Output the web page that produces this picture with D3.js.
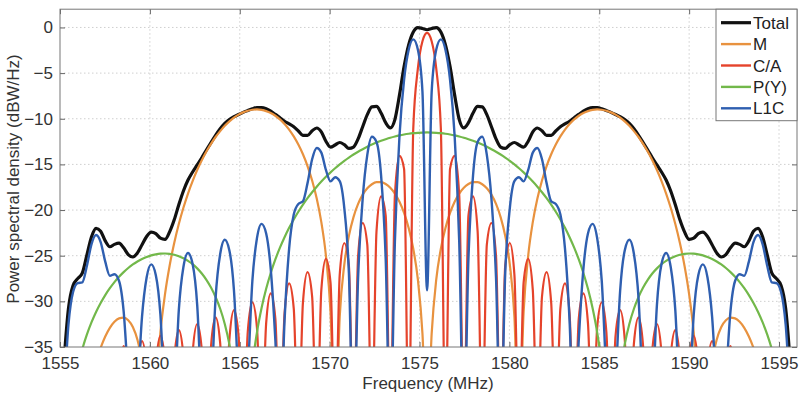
<!DOCTYPE html>
<html><head><meta charset="utf-8">
<script src="https://cdn.jsdelivr.net/npm/d3@7"></script>
<style>
body{margin:0;background:#fff}
svg{display:block}
text{font-family:"Liberation Sans",Arial,Helvetica,sans-serif}
</style>
</head><body>
<svg id="chart" width="800" height="399"></svg>
<script>
// ---------- data ----------
const freqMHz = [
1554.960,1555.216,1555.471,1555.727,1555.983,1556.239,1556.494,1556.750,1557.006,1557.262,
1557.517,1557.773,1558.029,1558.285,1558.540,1558.796,1559.052,1559.308,1559.563,1559.819,
1560.075,1560.331,1560.586,1560.842,1561.098,1561.354,1561.609,1561.865,1562.121,1562.377,
1562.632,1562.888,1563.144,1563.400,1563.655,1563.911,1564.167,1564.423,1564.678,1564.934,
1565.190,1565.446,1565.701,1565.957,1566.213,1566.469,1566.724,1566.980,1567.236,1567.492,
1567.747,1568.003,1568.259,1568.515,1568.770,1569.026,1569.282,1569.538,1569.793,1570.049,
1570.305,1570.561,1570.816,1571.072,1571.328,1571.584,1571.839,1572.095,1572.351,1572.607,
1572.862,1573.118,1573.374,1573.630,1573.885,1574.141,1574.397,1574.653,1574.908,1575.164,
1575.420,
1575.676,1575.932,1576.187,1576.443,1576.699,1576.955,1577.210,1577.466,1577.722,1577.978,
1578.233,1578.489,1578.745,1579.001,1579.256,1579.512,1579.768,1580.024,1580.279,1580.535,
1580.791,1581.047,1581.302,1581.558,1581.814,1582.070,1582.325,1582.581,1582.837,1583.093,
1583.348,1583.604,1583.860,1584.116,1584.371,1584.627,1584.883,1585.139,1585.394,1585.650,
1585.906,1586.162,1586.417,1586.673,1586.929,1587.185,1587.440,1587.696,1587.952,1588.208,
1588.463,1588.719,1588.975,1589.231,1589.486,1589.742,1589.998,1590.254,1590.509,1590.765,
1591.021,1591.277,1591.532,1591.788,1592.044,1592.300,1592.555,1592.811,1593.067,1593.323,
1593.578,1593.834,1594.090,1594.346,1594.601,1594.857,1595.113,1595.369,1595.624,1595.880
];

const totalDb = [
-45,-36.84,-30.78,-28.26,-27.51,-26.91,-24.94,-22.94,-22.00,-22.32,
-23.38,-24.02,-23.76,-23.63,-24.14,-24.88,-25.14,-24.69,-23.80,-22.89,
-22.42,-22.59,-23.08,-23.22,-22.39,-21.07,-19.42,-17.91,-16.71,-15.83,
-15.06,-14.27,-13.42,-12.61,-11.81,-11.09,-10.50,-10.08,-9.78,-9.53,
-9.30,-9.10,-8.91,-8.78,-8.77,-8.90,-9.17,-9.52,-9.90,-10.27,
-10.56,-10.87,-11.34,-11.82,-11.83,-11.32,-11.01,-11.44,-12.46,-13.11,
-12.87,-12.60,-12.84,-13.25,-13.10,-12.21,-10.87,-9.55,-8.70,-8.65,
-9.37,-10.43,-11.00,-10.09,-7.41,-4.29,-1.90,-0.49,-0.01,-0.11,
-0.25,
-0.11,-0.01,-0.49,-1.90,-4.29,-7.41,-10.09,-11.00,-10.43,-9.37,
-8.65,-8.70,-9.55,-10.87,-12.21,-13.10,-13.25,-12.84,-12.60,-12.87,
-13.11,-12.46,-11.44,-11.01,-11.32,-11.83,-11.82,-11.34,-10.87,-10.56,
-10.27,-9.90,-9.52,-9.17,-8.90,-8.77,-8.78,-8.91,-9.10,-9.30,
-9.53,-9.78,-10.08,-10.50,-11.09,-11.81,-12.61,-13.42,-14.27,-15.06,
-15.83,-16.71,-17.91,-19.42,-21.07,-22.39,-23.22,-23.08,-22.59,-22.42,
-22.89,-23.80,-24.69,-25.14,-24.88,-24.14,-23.63,-23.76,-24.02,-23.38,
-22.32,-22.00,-22.94,-24.94,-26.91,-27.51,-28.26,-30.78,-36.84,-45
];

const mDb = [
-45,-45,-45,-45,-45,-43,-40.9,-38.56,-36.64,-35.09,
-33.85,-32.90,-32.24,-31.86,-31.78,-32.07,-32.81,-34.21,-36.71,-41.8,
-45,-40.1,-33.40,-29.21,-26.10,-23.61,-21.53,-19.75,-18.19,-16.83,
-15.62,-14.55,-13.59,-12.75,-12.00,-11.35,-10.77,-10.28,-9.87,-9.55,
-9.30,-9.12,-9.01,-8.98,-9.03,-9.16,-9.37,-9.67,-10.07,-10.57,
-11.18,-11.93,-12.82,-13.89,-15.18,-16.76,-18.74,-21.33,-24.98,-31.17,
-45,-31.67,-25.97,-22.83,-20.77,-19.33,-18.31,-17.61,-17.17,-16.95,
-16.95,-17.15,-17.56,-18.19,-19.09,-20.31,-21.96,-24.24,-27.60,-33.53,
-45,
-33.53,-27.60,-24.24,-21.96,-20.31,-19.09,-18.19,-17.56,-17.15,-16.95,
-16.95,-17.17,-17.61,-18.31,-19.33,-20.77,-22.83,-25.97,-31.67,-45,
-31.17,-24.98,-21.33,-18.74,-16.76,-15.18,-13.89,-12.82,-11.93,-11.18,
-10.57,-10.07,-9.67,-9.37,-9.16,-9.03,-8.98,-9.01,-9.12,-9.30,
-9.55,-9.87,-10.28,-10.77,-11.35,-12.00,-12.75,-13.59,-14.55,-15.62,
-16.83,-18.19,-19.75,-21.53,-23.61,-26.10,-29.21,-33.40,-40.1,-45,
-41.8,-36.71,-34.21,-32.81,-32.07,-31.78,-31.86,-32.24,-32.90,-33.85,
-35.09,-36.64,-38.56,-40.9,-43,-45,-45,-45,-45,-45
];

const caDb = [
-45,-39.50,-36.40,-39.10,-45,-39.00,-35.90,-38.70,-45,-38.50,
-35.40,-38.20,-45,-38.00,-34.89,-37.70,-45,-37.50,-34.35,-37.20,
-45,-36.90,-33.77,-36.60,-45,-36.32,-33.15,-36.00,-45,-35.66,
-32.48,-35.32,-45,-34.95,-31.76,-34.58,-45,-34.18,-30.97,-33.77,
-45,-33.33,-30.10,-32.88,-45,-32.39,-29.13,-31.88,-45,-31.34,
-28.04,-30.76,-45,-30.14,-26.80,-29.47,-45,-28.75,-25.35,-27.96,
-45,-27.09,-23.61,-26.12,-45,-25.03,-21.42,-23.79,-45,-22.34,
-18.50,-20.60,-45,-18.41,-14.07,-15.49,-45,-11.05,-4.52,-1.51,
-0.60,
-1.51,-4.52,-11.05,-45,-15.49,-14.07,-18.41,-45,-20.60,-18.50,
-22.34,-45,-23.79,-21.42,-25.03,-45,-26.12,-23.61,-27.09,-45,
-27.96,-25.35,-28.75,-45,-29.47,-26.80,-30.14,-45,-30.76,-28.04,
-31.34,-45,-31.88,-29.13,-32.39,-45,-32.88,-30.10,-33.33,-45,
-33.77,-30.97,-34.18,-45,-34.58,-31.76,-34.95,-45,-35.32,-32.48,
-35.66,-45,-36.00,-33.15,-36.32,-45,-36.60,-33.77,-36.90,-45,
-37.20,-34.35,-37.50,-45,-37.70,-34.89,-38.00,-45,-38.20,-35.40,
-38.50,-45,-38.70,-35.90,-39.00,-45,-39.10,-36.40,-39.50,-45
];

const pyDb = [
-45,-45,-43.4,-39.77,-37.22,-35.25,-33.65,-32.31,-31.16,-30.18,
-29.31,-28.56,-27.89,-27.31,-26.80,-26.35,-25.96,-25.63,-25.36,-25.14,
-24.96,-24.85,-24.78,-24.76,-24.80,-24.90,-25.05,-25.27,-25.56,-25.93,
-26.39,-26.95,-27.64,-28.48,-29.52,-30.81,-32.47,-34.71,-37.98,-43.8,
-45,-43.3,-37.11,-33.40,-30.73,-28.63,-26.89,-25.41,-24.12,-22.98,
-21.95,-21.03,-20.19,-19.41,-18.70,-18.05,-17.44,-16.88,-16.36,-15.87,
-15.42,-15.00,-14.61,-14.25,-13.92,-13.61,-13.33,-13.07,-12.83,-12.61,
-12.41,-12.24,-12.08,-11.94,-11.82,-11.72,-11.64,-11.58,-11.54,-11.51,
-11.50,
-11.51,-11.54,-11.58,-11.64,-11.72,-11.82,-11.94,-12.08,-12.24,-12.41,
-12.61,-12.83,-13.07,-13.33,-13.61,-13.92,-14.25,-14.61,-15.00,-15.42,
-15.87,-16.36,-16.88,-17.44,-18.05,-18.70,-19.41,-20.19,-21.03,-21.95,
-22.98,-24.12,-25.41,-26.89,-28.63,-30.73,-33.40,-37.11,-43.3,-45,
-43.8,-37.98,-34.71,-32.47,-30.81,-29.52,-28.48,-27.64,-26.95,-26.39,
-25.93,-25.56,-25.27,-25.05,-24.90,-24.80,-24.76,-24.78,-24.85,-24.96,
-25.14,-25.36,-25.63,-25.96,-26.35,-26.80,-27.31,-27.89,-28.56,-29.31,
-30.18,-31.16,-32.31,-33.65,-35.25,-37.22,-39.77,-43.4,-45,-45
];

const l1cDb = [
-45,-40.2,-32.52,-28.98,-28.00,-27.92,-26.13,-23.75,-22.74,-23.51,
-25.65,-27.19,-27.03,-27.77,-31.07,-38.55,-45,-39.85,-31.68,-27.39,
-25.95,-27.13,-31.46,-41.3,-45,-41.4,-30.99,-26.24,-24.70,-25.91,
-30.38,-40.9,-45,-40.5,-29.65,-24.82,-23.25,-24.42,-28.81,-38.8,
-45,-38.0,-27.79,-23.08,-21.51,-22.56,-26.46,-34.23,-45,-32.13,
-24.22,-20.50,-19.33,-19.04,-17.05,-14.44,-13.20,-13.71,-15.60,-16.86,
-16.40,-16.83,-19.78,-26.91,-45,-27.39,-18.75,-13.96,-11.97,-12.54,
-16.20,-25.30,-45,-23.49,-11.91,-5.73,-2.43,-1.30,-2.42,-7.06,
-28.8,
-7.06,-2.42,-1.30,-2.43,-5.73,-11.91,-23.49,-45,-25.30,-16.20,
-12.54,-11.97,-13.96,-18.75,-27.39,-45,-26.91,-19.78,-16.83,-16.40,
-16.86,-15.60,-13.71,-13.20,-14.44,-17.05,-19.04,-19.33,-20.50,-24.22,
-32.13,-45,-34.23,-26.46,-22.56,-21.51,-23.08,-27.79,-38.0,-45,
-38.8,-28.81,-24.42,-23.25,-24.82,-29.65,-40.5,-45,-40.9,-30.38,
-25.91,-24.70,-26.24,-30.99,-41.4,-45,-41.3,-31.46,-27.13,-25.95,
-27.39,-31.68,-39.85,-45,-38.55,-31.07,-27.77,-27.03,-27.19,-25.65,
-23.51,-22.74,-23.75,-26.13,-27.92,-28.00,-28.98,-32.52,-40.2,-45
];

const seriesNames = ["Total", "M", "C/A", "P(Y)", "L1C"];
const seriesValues = [totalDb, mDb, caDb, pyDb, l1cDb];
const seriesColors = ["#111111", "#E8923F", "#E5432B", "#72B84A", "#2F5FB0"];
const seriesWidths = [3.2, 2.2, 2.2, 2.2, 2.4];

const xTicks = [1555, 1560, 1565, 1570, 1575, 1580, 1585, 1590, 1595];
const yTicks = [0, -5, -10, -15, -20, -25, -30, -35];

seriesValues.forEach((arr, i) => {
  if (arr.length !== freqMHz.length) throw new Error(seriesNames[i] + " length " + arr.length + " vs " + freqMHz.length);
});

// ---------- layout ----------
const P = {x0: 60, x1: 797, y0: 9.2, y1: 347};
const svg = d3.select("#chart");
const x = d3.scaleLinear().domain([1555, 1596]).range([P.x0, P.x1]);
const y = d3.scaleLinear().domain([-35, 2]).range([P.y1, P.y0]);

svg.append("rect").attr("width", 800).attr("height", 399).attr("fill", "#fff");

svg.append("defs").append("clipPath").attr("id", "plotclip")
  .append("rect").attr("x", P.x0).attr("y", P.y0)
  .attr("width", P.x1 - P.x0).attr("height", P.y1 - P.y0);

// grid
const grid = svg.append("g").attr("stroke", "#cfcfcf").attr("stroke-width", 1)
  .attr("stroke-dasharray", "1.5,2.5");
grid.selectAll("line.v").data(xTicks.filter(d => d > 1555)).join("line").attr("class", "v")
  .attr("x1", d => x(d)).attr("x2", d => x(d)).attr("y1", P.y0).attr("y2", P.y1);
grid.selectAll("line.h").data(yTicks.filter(d => d > -35)).join("line").attr("class", "h")
  .attr("x1", P.x0).attr("x2", P.x1).attr("y1", d => y(d)).attr("y2", d => y(d));

// axes
const fontSize = 17;
const axB = svg.append("g").attr("transform", `translate(0,${P.y1})`)
  .call(d3.axisBottom(x).tickValues(xTicks).tickSize(-5).tickPadding(10).tickFormat(d3.format("d")));
const axL = svg.append("g").attr("transform", `translate(${P.x0},0)`)
  .call(d3.axisLeft(y).tickValues(yTicks).tickSize(-5).tickPadding(7));
const axT = svg.append("g").attr("transform", `translate(0,${P.y0})`)
  .call(d3.axisTop(x).tickValues(xTicks).tickSize(-5).tickFormat(""));
const axR = svg.append("g").attr("transform", `translate(${P.x1},0)`)
  .call(d3.axisRight(y).tickValues(yTicks).tickSize(-5).tickFormat(""));
[axB, axL, axT, axR].forEach(a => {
  a.select(".domain").remove();
  a.selectAll("line").attr("stroke", "#666");
  a.selectAll("text").attr("fill", "#333").style("font-size", fontSize + "px")
    .style("font-family", '"Liberation Sans", Arial, sans-serif');
});

// curves
const lineGen = d3.line()
  .x(d => x(d[0])).y(d => y(d[1]))
  .curve(d3.curveMonotoneX);
const curves = svg.append("g").attr("clip-path", "url(#plotclip)");
seriesValues.forEach((vals, i) => {
  const pts = freqMHz.map((f, k) => [f, vals[k]]);
  curves.append("path").datum(pts)
    .attr("fill", "none").attr("stroke", seriesColors[i])
    .attr("stroke-width", seriesWidths[i]).attr("stroke-linejoin", "round")
    .attr("d", lineGen);
});

// frame
svg.append("rect").attr("x", P.x0).attr("y", P.y0)
  .attr("width", P.x1 - P.x0).attr("height", P.y1 - P.y0)
  .attr("fill", "none").attr("stroke", "#777").attr("stroke-width", 1);

// axis titles
svg.append("text").attr("x", 428).attr("y", 389).attr("text-anchor", "middle")
  .attr("fill", "#333").style("font-size", fontSize + "px").text("Frequency (MHz)");
svg.append("text").attr("transform", "translate(19,179) rotate(-90)").attr("text-anchor", "middle")
  .attr("fill", "#333").style("font-size", fontSize + "px").text("Power spectral density (dBW/Hz)");

// legend
const L = {x0: 716, y0: P.y0, w: P.x1 - 716, h: 111.5};
const leg = svg.append("g");
leg.append("rect").attr("x", L.x0).attr("y", L.y0).attr("width", L.w).attr("height", L.h)
  .attr("fill", "#fff").attr("stroke", "#777").attr("stroke-width", 1);
const legY = d3.scalePoint().domain(seriesNames).range([22.7, 108.3]);
seriesNames.forEach((name, i) => {
  const cy = legY(name);
  leg.append("line").attr("x1", 721).attr("x2", 751).attr("y1", cy).attr("y2", cy)
    .attr("stroke", seriesColors[i]).attr("stroke-width", i === 0 ? 3.2 : 2.4);
  leg.append("text").attr("x", 753).attr("y", cy + 6).attr("fill", "#222")
    .style("font-size", fontSize + "px").text(name);
});
</script>
</body></html>
